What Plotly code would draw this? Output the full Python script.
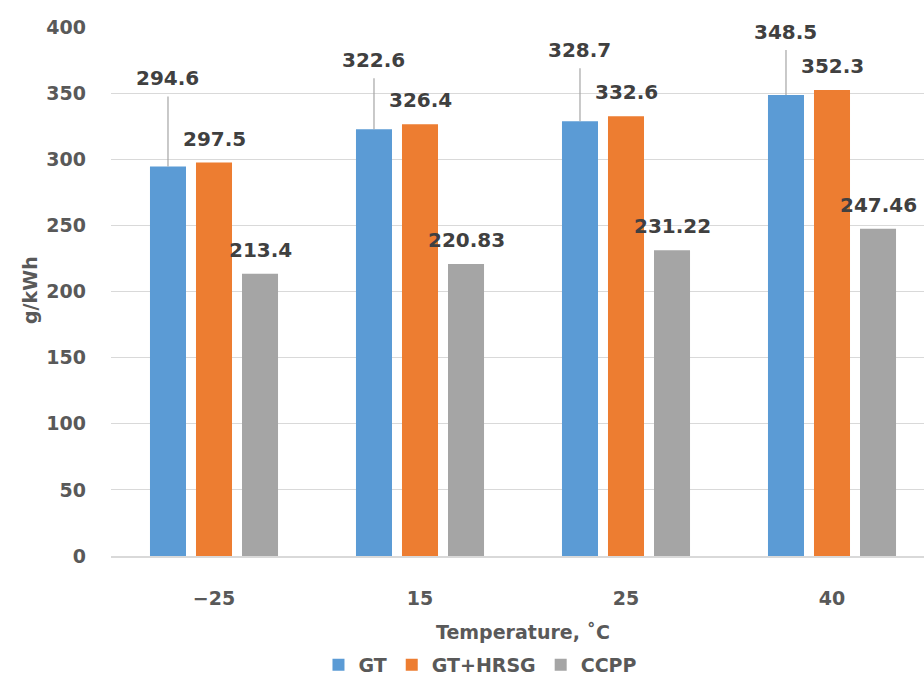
import plotly.graph_objects as go

categories = ["\u221225", "15", "25", "40"]
gt = [294.6, 322.6, 328.7, 348.5]
gt_hrsg = [297.5, 326.4, 332.6, 352.3]
ccpp = [213.4, 220.83, 231.22, 247.46]
gt_text = ["294.6", "322.6", "328.7", "348.5"]
gt_hrsg_text = ["297.5", "326.4", "332.6", "352.3"]
ccpp_text = ["213.4", "220.83", "231.22", "247.46"]
y_ticks = [0, 50, 100, 150, 200, 250, 300, 350, 400]

# layout-only: pixel lift of the GT labels (placed with leader lines)
gt_label_lift_px = [88, 69, 71, 63]

FONT = "DejaVu Sans"
AX_COL = "#595959"
LBL_COL = "#404040"
colors = ["#5B9BD5", "#ED7D31", "#A5A5A5"]
names = ["GT", "GT+HRSG", "CCPP"]
series = [gt, gt_hrsg, ccpp]
texts = [gt_text, gt_hrsg_text, ccpp_text]

BARGAP = 0.33
BARGROUPGAP = 0.217
slot = (1 - BARGAP) / 3
offsets = [-slot, 0.0, slot]

fig = go.Figure()
for name, vals, col in zip(names, series, colors):
    fig.add_trace(go.Bar(x=categories, y=vals, name=name, marker_color=col,
                         marker_line_width=0))

annotations = []
shapes = []
for s, (vals, txt) in enumerate(zip(series, texts)):
    for i, (v, t) in enumerate(zip(vals, txt)):
        xpos = i + offsets[s]
        if s == 0:
            lift = gt_label_lift_px[i]
            shapes.append(dict(type="line", xref="x", yref="y", ysizemode="pixel",
                               yanchor=v, x0=xpos, x1=xpos, y0=0, y1=lift - 18,
                               line=dict(color="#A6A6A6", width=1.2)))
        else:
            lift = 24
        annotations.append(dict(x=xpos, y=v, xref="x", yref="y", text=f"<b>{t}</b>",
                                showarrow=False, yshift=lift, yanchor="middle",
                                xanchor="center",
                                font=dict(family=FONT, size=20, color=LBL_COL)))

annotations.append(dict(x=(523 - 111) / 813, y=0, xref="paper", yref="paper",
                        text="<b>Temperature, \u02daC</b>", showarrow=False,
                        yshift=-(632 - 556), yanchor="middle", xanchor="center",
                        font=dict(family=FONT, size=19, color=AX_COL)))
annotations.append(dict(x=(30 - 111) / 813, y=(556 - 290) / 529, xref="paper", yref="paper",
                        text="<b>g/kWh</b>", showarrow=False, textangle=-90,
                        xanchor="center", yanchor="middle",
                        font=dict(family=FONT, size=19, color=AX_COL)))

fig.update_layout(
    width=924, height=680,
    margin=dict(l=111, r=0, t=27, b=124, autoexpand=False),
    paper_bgcolor="white", plot_bgcolor="white",
    barmode="group", bargap=BARGAP, bargroupgap=BARGROUPGAP,
    font=dict(family=FONT, color=AX_COL),
    showlegend=True,
    legend=dict(orientation="h", xref="container", yref="container",
                x=0.52, y=1 - 665 / 680, xanchor="center", yanchor="middle",
                font=dict(family=FONT, size=19, color=AX_COL, weight="bold"),
                itemwidth=30, traceorder="normal", bgcolor="rgba(0,0,0,0)"),
    annotations=annotations,
    shapes=shapes,
)
fig.update_xaxes(type="category", range=[-0.5, -0.5 + 813 / 206], showgrid=False,
                 showline=True, linecolor="#D9D9D9", linewidth=1.5,
                 ticks="", ticklabelstandoff=24, automargin=False,
                 tickfont=dict(family=FONT, size=19, color=AX_COL, weight="bold"))
fig.update_yaxes(range=[0, 400], tickvals=y_ticks, showgrid=True, gridcolor="#D9D9D9",
                 gridwidth=1, zeroline=False, showline=False, ticks="",
                 ticklabelstandoff=24, automargin=False,
                 tickfont=dict(family=FONT, size=19, color=AX_COL, weight="bold"))

fig.write_html("out.html", config={"displayModeBar": False},
               post_script="document.body.style.margin='0';document.body.style.overflow='hidden';")
